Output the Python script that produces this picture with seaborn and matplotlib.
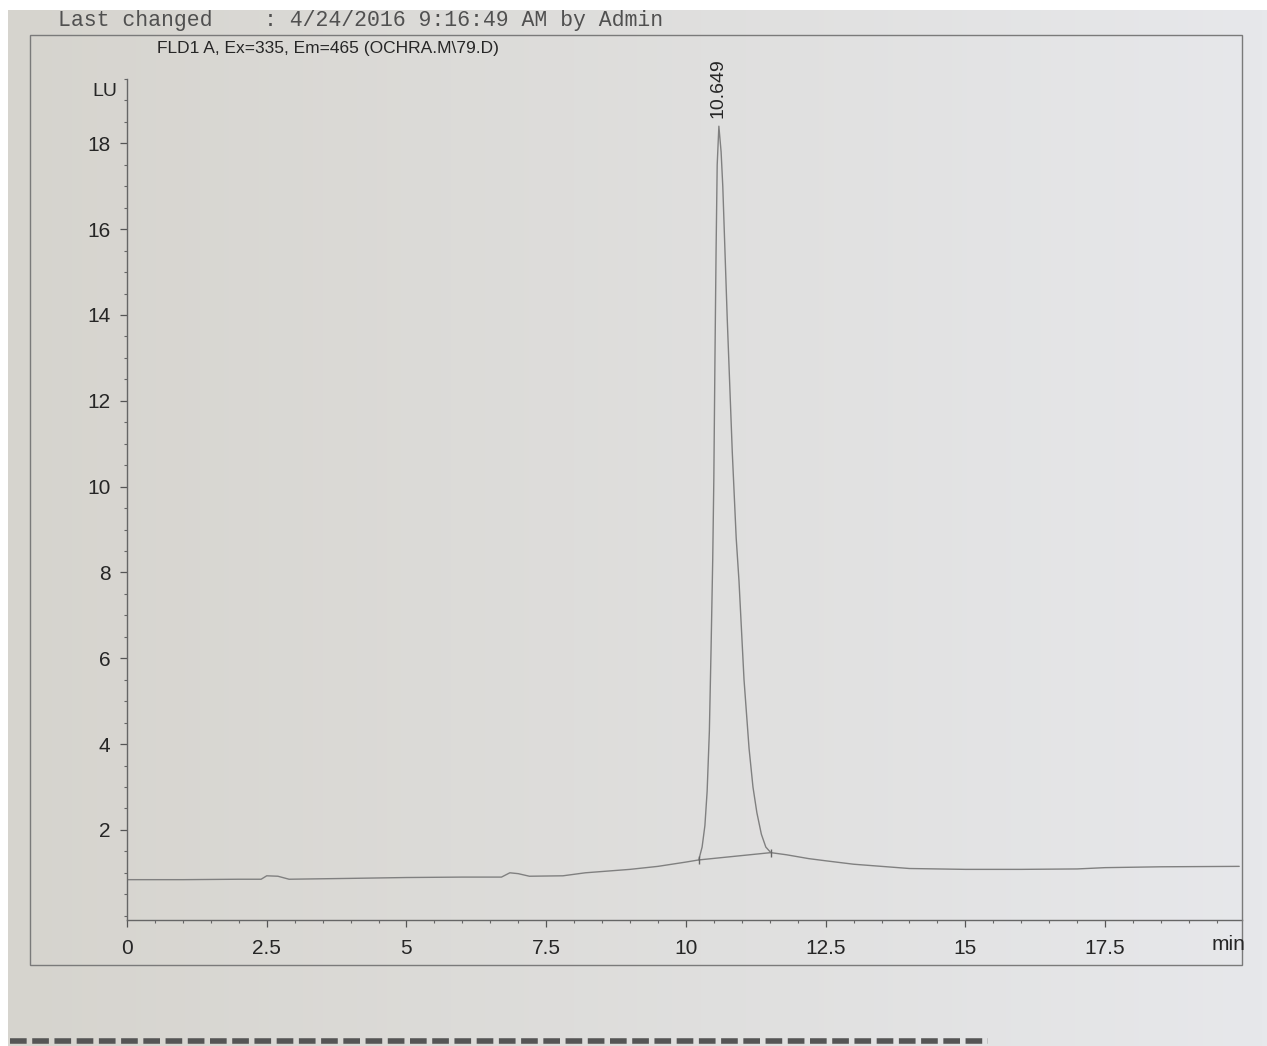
import matplotlib
matplotlib.use("Agg")
import matplotlib.pyplot as plt
import matplotlib.patches as mpatches
import matplotlib.lines as mlines
from matplotlib import font_manager
from matplotlib.ticker import MultipleLocator, FixedLocator, FixedFormatter
import numpy as np
import pandas as pd
import seaborn as sns

# FLD1 A trace: retention time (min) vs signal (LU)
time_before = [0.0, 1.0, 2.0, 2.4, 2.5, 2.7, 2.9, 4.0, 5.0, 6.0, 6.7, 6.85, 7.0, 7.2,
               7.8, 8.2, 9.0, 9.5, 10.0, 10.23]
signal_before = [0.84, 0.84, 0.85, 0.85, 0.93, 0.92, 0.85, 0.87, 0.89, 0.90, 0.90, 1.00, 0.98, 0.92,
                 0.93, 1.00, 1.08, 1.15, 1.25, 1.30]

peak_time = [10.29, 10.34, 10.38, 10.42, 10.45, 10.48, 10.50, 10.52, 10.54, 10.56, 10.59,
             10.63, 10.66, 10.74, 10.83, 10.90, 10.95, 11.04, 11.13, 11.20, 11.27, 11.35, 11.43, 11.52]
peak_signal = [1.6, 2.1, 2.9, 4.3, 6.2, 8.3, 10.2, 13.0, 15.5, 17.5, 18.4,
               17.8, 17.0, 13.9, 10.8, 8.8, 7.8, 5.5, 3.9, 3.0, 2.4, 1.9, 1.6, 1.47]

time_after = [11.8, 12.2, 12.5, 13.0, 13.5, 14.0, 15.0, 16.0, 17.0, 17.5, 18.5, 19.9]
signal_after = [1.42, 1.33, 1.28, 1.20, 1.15, 1.10, 1.08, 1.08, 1.09, 1.12, 1.14, 1.15]

# integration baseline drawn under the peak
integ_time = [10.23, 11.52]
integ_signal = [1.30, 1.47]

peak_rt = "10.649"
peak_label_x = 10.58
peak_label_y = 18.6

x_ticks = [0, 2.5, 5, 7.5, 10, 12.5, 15, 17.5]
x_tick_labels = ["0", "2.5", "5", "7.5", "10", "12.5", "15", "17.5"]
y_ticks = [2, 4, 6, 8, 10, 12, 14, 16, 18]
y_tick_labels = ["2", "4", "6", "8", "10", "12", "14", "16", "18"]

title = "FLD1 A, Ex=335, Em=465 (OCHRA.M\\79.D)"
header = "Last changed    : 4/24/2016 9:16:49 AM by Admin"

trace = pd.DataFrame({
    "time": time_before + peak_time + time_after,
    "signal": signal_before + peak_signal + signal_after,
})
baseline = pd.DataFrame({"time": integ_time, "signal": integ_signal})

sns.set_style("ticks")
installed = {f.name for f in font_manager.fontManager.ttflist}
narrow = [f for f in ["Liberation Sans Narrow", "Liberation Sans", "DejaVu Sans"] if f in installed]
mono = [f for f in ["Liberation Mono", "DejaVu Sans Mono"] if f in installed]
plt.rcParams["font.family"] = narrow

W, H = 1267, 1046
fig = plt.figure(figsize=(W / 100, H / 100), dpi=100)
fig.patch.set_facecolor("white")

# photographed paper background
bg = fig.add_axes([8 / W, 0, 1 - 8 / W, 1 - 10 / H], zorder=-10)
grad = np.linspace(0, 1, 256)[None, :, None]
left_col = np.array([214, 212, 206]) / 255
right_col = np.array([231, 232, 235]) / 255
bg.imshow(left_col + (right_col - left_col) * grad, aspect="auto", extent=[0, 1, 0, 1])
bg.set_axis_off()

ink = "#262626"
trace_col = "#808080"

# plot area: x=0 at px 127, x-axis at px 920
ax = fig.add_axes([127 / W, 1 - 920 / H, (1242 - 127) / W, (920 - 79) / H])
ax.set_facecolor("none")

sns.lineplot(data=trace, x="time", y="signal", ax=ax, color=trace_col,
             linewidth=1.0, estimator=None, sort=False)
sns.lineplot(data=baseline, x="time", y="signal", ax=ax, color=trace_col,
             linewidth=1.0, estimator=None, sort=False)
ax.plot(integ_time, integ_signal, linestyle="none", marker="|", markersize=6,
        color="#666666", markeredgewidth=1.0)

ax.set_xlim(0, 19.95)
ax.set_ylim(-0.1, 19.5)
ax.set_xlabel("")
ax.set_ylabel("")

ax.xaxis.set_major_locator(FixedLocator(x_ticks))
ax.xaxis.set_major_formatter(FixedFormatter(x_tick_labels))
ax.xaxis.set_minor_locator(MultipleLocator(0.5))
ax.yaxis.set_major_locator(FixedLocator(y_ticks))
ax.yaxis.set_major_formatter(FixedFormatter(y_tick_labels))
ax.yaxis.set_minor_locator(MultipleLocator(0.5))

ax.tick_params(axis="both", which="major", direction="out", length=5, width=0.9,
               color="#555555", labelsize=15, labelcolor=ink)
ax.tick_params(axis="x", which="major", pad=9)
ax.tick_params(axis="y", which="major", pad=7)
ax.tick_params(axis="both", which="minor", direction="out", length=2.5, width=0.8, color="#666666")

sns.despine(ax=ax, top=True, right=True)
for side in ["left", "bottom"]:
    ax.spines[side].set_color("#666666")
    ax.spines[side].set_linewidth(1.0)

ax.text(peak_label_x, peak_label_y, peak_rt, rotation=90, ha="center", va="bottom",
        fontsize=14, color=ink)

# labels outside the axes
fig.text(105 / W, 1 - 92 / H, "LU", ha="center", va="center", fontsize=14, color=ink)
fig.text(1245 / W, 1 - 945 / H, "min", ha="right", va="center", fontsize=15, color=ink)
fig.text(157 / W, 1 - 48 / H, title, ha="left", va="center", fontsize=12.5, color=ink)
fig.text(58 / W, 1 - 26 / H, header, ha="left", va="baseline", fontsize=15.5,
         color="#505050", family=mono)

# printout frame
fig.add_artist(mpatches.Rectangle((30 / W, 1 - 965 / H), (1242 - 30) / W, (965 - 35) / H,
                                  transform=fig.transFigure, fill=False,
                                  edgecolor="#7a7a7a", linewidth=1.0))

# next printed line cut off at the bottom
fig.add_artist(mlines.Line2D([10 / W, 988 / W], [1 - 1041 / H, 1 - 1041 / H],
                             transform=fig.transFigure, color="#555555",
                             linewidth=4, linestyle=(0, (3, 1))))

# white margin over the top of the photo
fig.add_artist(mpatches.Rectangle((0, 1 - 10 / H), 1, 10 / H, transform=fig.transFigure,
                                  facecolor="white", edgecolor="none", zorder=20))

fig.savefig("out.png", dpi=100, facecolor=fig.get_facecolor())
